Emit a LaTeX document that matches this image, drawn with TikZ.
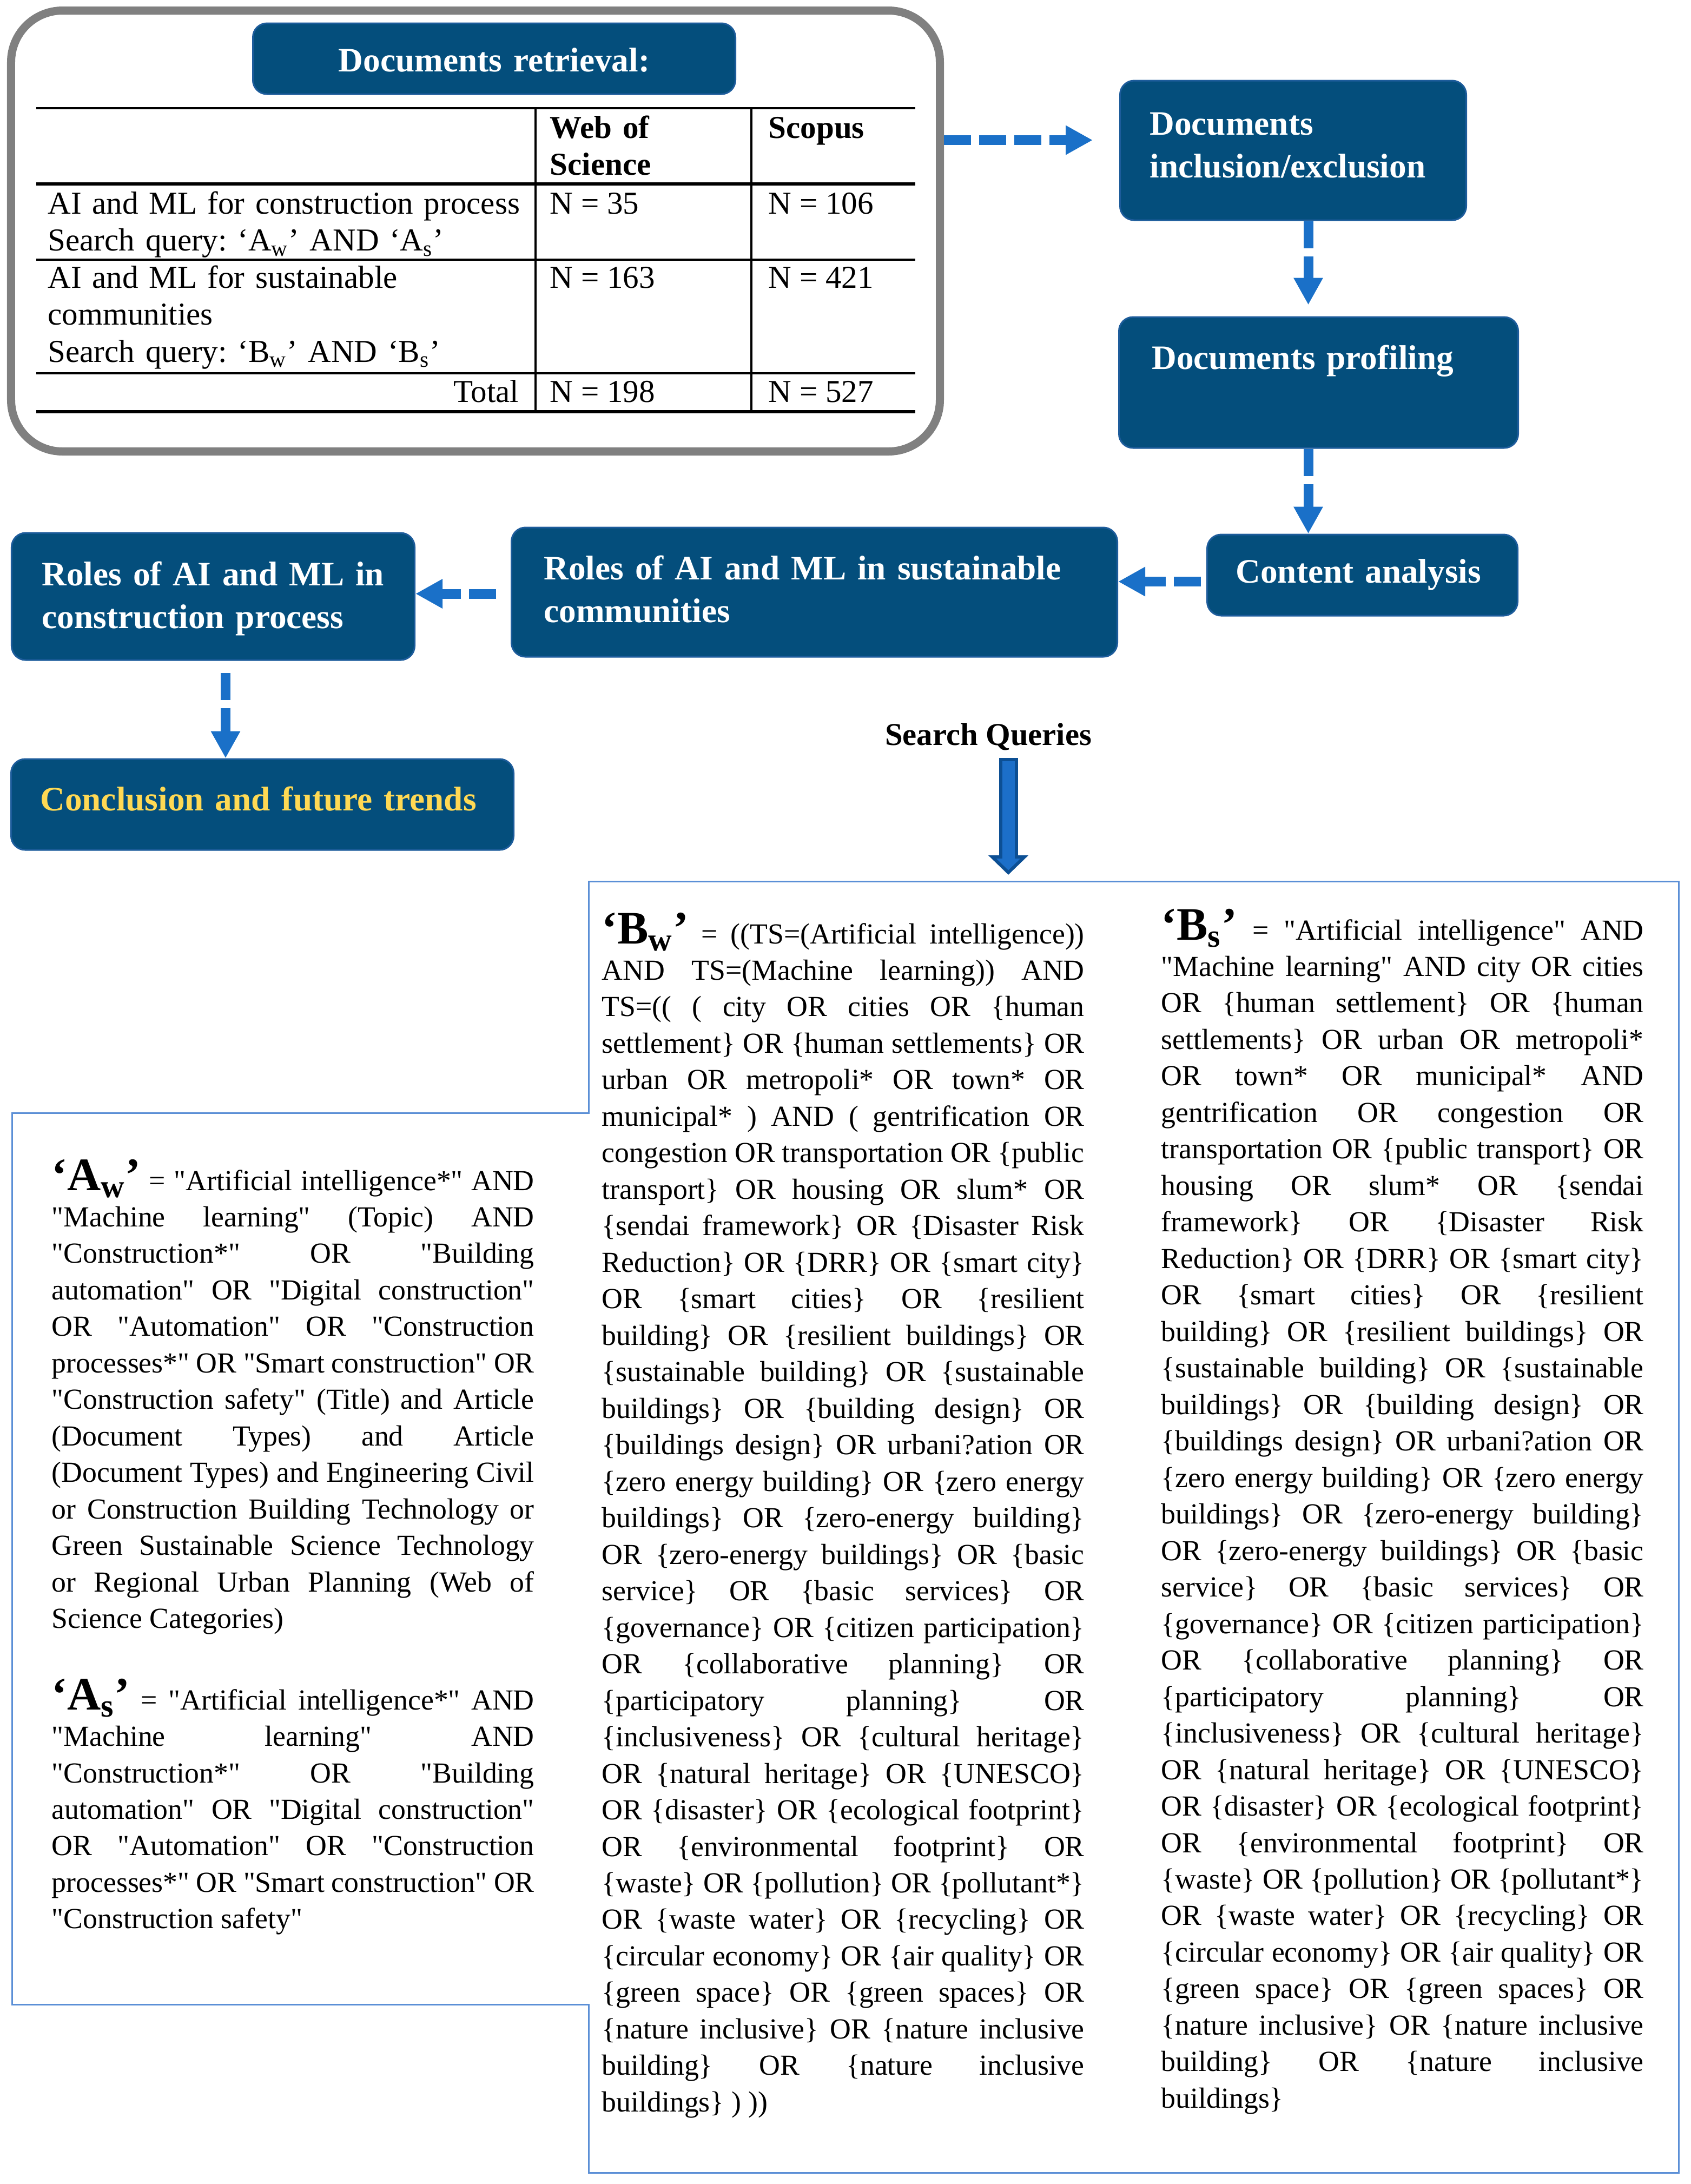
\documentclass[tikz,border=0pt]{standalone}
\usepackage{fontspec}
\setmainfont{Liberation Serif}
\usepackage{tikz}
\usetikzlibrary{arrows.meta}

\tolerance=10000
\hbadness=10000
\hyphenpenalty=10000
\exhyphenpenalty=10000
\frenchspacing

\font\dqfont="Liberation Serif" at 15.3pt
\newcommand{\quoted}[1]{{\dqfont\char34}#1{\dqfont\char34}}
\newcommand{\qhead}[2]{{\fontsize{24.5}{19.2}\selectfont\bfseries `#1\textsubscript{#2}'}}

\begin{document}
\begin{tikzpicture}[
  stage/.style={draw=rim, line width=0.03cm, fill=deep, rounded corners=0.26cm, text=white, font=\bfseries\fontsize{18}{22.5}\selectfont, align=left, inner ysep=0pt, anchor=base west},
  flow/.style={color=link, line width=0.18cm, dash pattern=on 0.5cm off 0.15cm, -{Triangle[length=0.5cm,width=0.51cm]}},
  cell/.style={anchor=base west, inner sep=0pt, align=left, font=\fontsize{16.8}{19.6}\selectfont},
  headcell/.style={cell, font=\bfseries\fontsize{16.8}{19.6}\selectfont},
  rule/.style={line width=0.04cm},
  query/.style={anchor=base west, inner sep=0pt, text width=8.92cm, align=justify, font=\fontsize{15.3}{19.2}\selectfont},
]
\definecolor{deep}{HTML}{044E7C}
\definecolor{rim}{HTML}{1D5C9B}
\definecolor{link}{HTML}{1A70C8}
\definecolor{gold}{HTML}{FFD954}
\definecolor{shell}{HTML}{808080}
\definecolor{outline}{HTML}{5B8FD6}
\definecolor{pipe}{HTML}{1C6FC9}
\definecolor{pipeedge}{HTML}{0C4F94}
\useasboundingbox (0,0) rectangle (31.26,-40.37);

\node[draw=shell, line width=0.15cm, rounded corners=0.95cm, minimum width=17.17cm, minimum height=8.15cm, inner sep=0pt] (frame) at (8.79,-4.27) {};
\node[stage, align=center, text width=8.52cm, inner xsep=0.2cm, text height=0.89cm, text depth=0.42cm] (retr) at (4.66,-1.32) {Documents retrieval:};

\foreach \y/\w in {2.00/0.04, 3.40/0.055, 4.80/0.04, 6.90/0.04, 7.61/0.055}
  \draw[rule, line width=\w cm] (0.67,-\y) -- (16.92,-\y);
\draw[rule] (9.90,-2.00) -- (9.90,-7.61);
\draw[rule] (13.89,-2.00) -- (13.89,-7.61);
\node[headcell, text width=3.7cm] (hwos) at (10.16,-2.55) {Web of\\Science};
\node[headcell] (hsco) at (14.20,-2.55) {Scopus};
\node[cell, text width=8.9cm] (rowa) at (0.88,-3.95) {AI and ML for construction process\\Search query: `A\textsubscript{w}' AND `A\textsubscript{s}'};
\node[cell] (rowawos) at (10.16,-3.95) {N = 35};
\node[cell] (rowasco) at (14.20,-3.95) {N = 106};
\node[cell, text width=8.9cm] (rowb) at (0.88,-5.32) {AI and ML for sustainable\\communities\\Search query: `B\textsubscript{w}' AND `B\textsubscript{s}'};
\node[cell] (rowbwos) at (10.16,-5.32) {N = 163};
\node[cell] (rowbsco) at (14.20,-5.32) {N = 421};
\node[cell, anchor=base east] (tot) at (9.60,-7.43) {Total};
\node[cell] (totwos) at (10.16,-7.43) {N = 198};
\node[cell] (totsco) at (14.20,-7.43) {N = 527};

\node[stage, text width=5.30cm, inner xsep=0.55cm, text height=1.00cm, text depth=1.58cm] (incl) at (20.69,-2.49) {Documents\\inclusion/exclusion};
\node[stage, text width=6.16cm, inner xsep=0.61cm, text height=0.96cm, text depth=1.46cm] (prof) at (20.67,-6.82) {Documents profiling};
\node[stage, text width=4.68cm, inner xsep=0.53cm, text height=0.89cm, text depth=0.61cm] (content) at (22.30,-10.77) {Content analysis};
\node[stage, text width=10.00cm, inner xsep=0.60cm, text height=0.96cm, text depth=1.43cm] (sust) at (9.44,-10.71) {\mbox{Roles of AI and ML in sustainable}\\communities};
\node[stage, text width=6.33cm, inner xsep=0.56cm, text height=0.97cm, text depth=1.38cm] (constr) at (0.20,-10.82) {\mbox{Roles of AI and ML in}\\\mbox{construction process}};
\node[stage, text=gold, text width=8.21cm, inner xsep=0.54cm, text height=0.95cm, text depth=0.73cm] (concl) at (0.19,-14.98) {\mbox{Conclusion and future trends}};

\coordinate (inclIn) at ([yshift=0.19cm]incl.west);
\draw[flow, shorten >=0.49cm] (frame.east |- inclIn) -- (inclIn);
\coordinate (inclOut) at ([xshift=0.28cm]incl.south);
\draw[flow, shorten >=0.21cm] (inclOut) -- (inclOut |- prof.north);
\coordinate (profOut) at ([xshift=-0.19cm]prof.south);
\draw[flow] (profOut) -- (profOut |- content.north);
\coordinate (contOut) at ([yshift=-0.12cm]content.west);
\draw[flow, shorten <=0.1cm] (contOut) -- (contOut -| sust.east);
\coordinate (sustOut) at ([yshift=-0.03cm]sust.west);
\draw[flow, shorten <=0.27cm] (sustOut) -- (sustOut -| constr.east);
\coordinate (constrOut) at ([xshift=0.23cm]constr.south);
\draw[flow, shorten <=0.22cm] (constrOut) -- (constrOut |- concl.north);

\node[font=\bfseries\fontsize{16.7}{20}\selectfont, inner sep=0pt, anchor=base] (sq) at (18.27,-13.77) {Search Queries};
\coordinate (qtip) at (18.64,-16.17);
\draw[line width=0.35cm, pipeedge, shorten <=0.14cm, -{Triangle[length=0.36cm,width=0.72cm]}] (qtip |- sq.south) -- (qtip);
\draw[line width=0.23cm, pipe, shorten <=0.20cm, shorten >=0.085cm, -{Triangle[length=0.215cm,width=0.43cm]}] (qtip |- sq.south) -- (qtip);

\draw[outline, line width=0.03cm] (10.88,-16.29) -- (31.03,-16.29) -- (31.03,-40.16) -- (10.88,-40.16) -- (10.88,-37.05) -- (0.22,-37.05) -- (0.22,-20.57) -- (10.88,-20.57) -- cycle;

\node[query] (aw) at (0.95,-22.00) {\qhead{A}{w} = \quoted{Artificial intelligence*} AND\linebreak
\quoted{Machine learning} (Topic) AND\linebreak
\quoted{Construction*} OR \quoted{Building\linebreak
automation} OR \quoted{Digital construction}\linebreak
OR \quoted{Automation} OR \quoted{Construction\linebreak
processes*} OR \quoted{Smart construction} OR\linebreak
\quoted{Construction safety} (Title) and Article\linebreak
(Document Types) and Article\linebreak
(Document Types) and Engineering Civil\linebreak
or Construction Building Technology or\linebreak
Green Sustainable Science Technology\linebreak
or Regional Urban Planning (Web of\linebreak
Science Categories)};

\node[query] (as) at (0.95,-31.60) {\qhead{A}{s} = \quoted{Artificial intelligence*} AND\linebreak
\quoted{Machine learning} AND\linebreak
\quoted{Construction*} OR \quoted{Building\linebreak
automation} OR \quoted{Digital construction}\linebreak
OR \quoted{Automation} OR \quoted{Construction\linebreak
processes*} OR \quoted{Smart construction} OR\linebreak
\quoted{Construction safety}};

\node[query] (bw) at (11.12,-17.44) {\qhead{B}{w} = ((TS=(Artificial intelligence))\linebreak
AND TS=(Machine learning)) AND\linebreak
TS=(( ( city OR cities OR \{human\linebreak
settlement\} OR \{human settlements\} OR\linebreak
urban OR metropoli* OR town* OR\linebreak
municipal* ) AND ( gentrification OR\linebreak
congestion OR transportation OR \{public\linebreak
transport\} OR housing OR slum* OR\linebreak
\{sendai framework\} OR \{Disaster Risk\linebreak
Reduction\} OR \{DRR\} OR \{smart city\}\linebreak
OR \{smart cities\} OR \{resilient\linebreak
building\} OR \{resilient buildings\} OR\linebreak
\{sustainable building\} OR \{sustainable\linebreak
buildings\} OR \{building design\} OR\linebreak
\{buildings design\} OR urbani?ation OR\linebreak
\{zero energy building\} OR \{zero energy\linebreak
buildings\} OR \{zero-energy building\}\linebreak
OR \{zero-energy buildings\} OR \{basic\linebreak
service\} OR \{basic services\} OR\linebreak
\{governance\} OR \{citizen participation\}\linebreak
OR \{collaborative planning\} OR\linebreak
\{participatory planning\} OR\linebreak
\{inclusiveness\} OR \{cultural heritage\}\linebreak
OR \{natural heritage\} OR \{UNESCO\}\linebreak
OR \{disaster\} OR \{ecological footprint\}\linebreak
OR \{environmental footprint\} OR\linebreak
\{waste\} OR \{pollution\} OR \{pollutant*\}\linebreak
OR \{waste water\} OR \{recycling\} OR\linebreak
\{circular economy\} OR \{air quality\} OR\linebreak
\{green space\} OR \{green spaces\} OR\linebreak
\{nature inclusive\} OR \{nature inclusive\linebreak
building\} OR \{nature inclusive\linebreak
buildings\} ) ))};

\node[query] (bs) at (21.46,-17.37) {\qhead{B}{s} = \quoted{Artificial intelligence} AND\linebreak
\quoted{Machine learning} AND city OR cities\linebreak
OR \{human settlement\} OR \{human\linebreak
settlements\} OR urban OR metropoli*\linebreak
OR town* OR municipal* AND\linebreak
gentrification OR congestion OR\linebreak
transportation OR \{public transport\} OR\linebreak
housing OR slum* OR \{sendai\linebreak
framework\} OR \{Disaster Risk\linebreak
Reduction\} OR \{DRR\} OR \{smart city\}\linebreak
OR \{smart cities\} OR \{resilient\linebreak
building\} OR \{resilient buildings\} OR\linebreak
\{sustainable building\} OR \{sustainable\linebreak
buildings\} OR \{building design\} OR\linebreak
\{buildings design\} OR urbani?ation OR\linebreak
\{zero energy building\} OR \{zero energy\linebreak
buildings\} OR \{zero-energy building\}\linebreak
OR \{zero-energy buildings\} OR \{basic\linebreak
service\} OR \{basic services\} OR\linebreak
\{governance\} OR \{citizen participation\}\linebreak
OR \{collaborative planning\} OR\linebreak
\{participatory planning\} OR\linebreak
\{inclusiveness\} OR \{cultural heritage\}\linebreak
OR \{natural heritage\} OR \{UNESCO\}\linebreak
OR \{disaster\} OR \{ecological footprint\}\linebreak
OR \{environmental footprint\} OR\linebreak
\{waste\} OR \{pollution\} OR \{pollutant*\}\linebreak
OR \{waste water\} OR \{recycling\} OR\linebreak
\{circular economy\} OR \{air quality\} OR\linebreak
\{green space\} OR \{green spaces\} OR\linebreak
\{nature inclusive\} OR \{nature inclusive\linebreak
building\} OR \{nature inclusive\linebreak
buildings\}};
\end{tikzpicture}
\end{document}
